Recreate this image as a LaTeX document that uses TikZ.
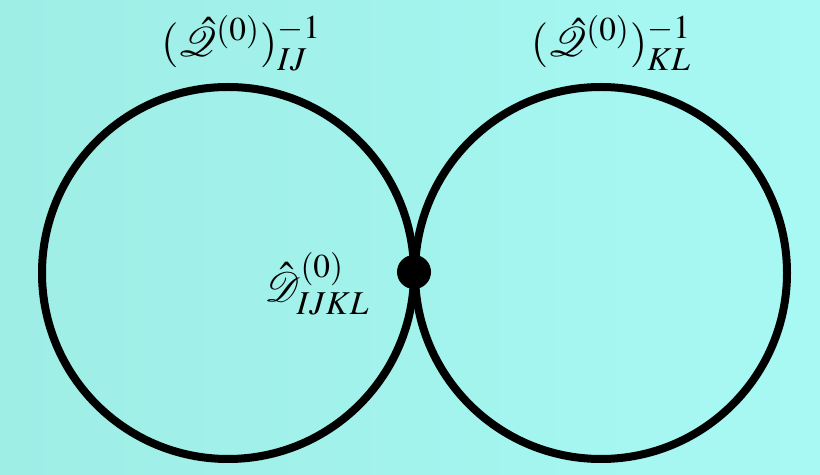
\documentclass[tikz,border=0pt]{standalone}
\usepackage{mathptmx}
\usepackage{mathrsfs}
\definecolor{bgL}{RGB}{158,238,230}
\definecolor{bgR}{RGB}{168,248,244}
\tikzset{
  loopline/.style={draw=black, line width=4pt, circle, inner sep=0pt, minimum size=372*0.5pt},
  vertexdot/.style={fill=black, circle, inner sep=0pt, minimum size=17pt},
  lab/.style={inner sep=0pt, font=\fontsize{22.5}{26}\selectfont}
}
\begin{document}
\begin{tikzpicture}[x=0.5pt,y=-0.5pt]
\shade[left color=bgL, right color=bgR] (0,0) rectangle (820,475);
\useasboundingbox (0,0) rectangle (820,475);
\node[loopline] (L) at (228,273) {};
\node[loopline] (R) at (601,273) {};
\node[vertexdot] (v) at (414,272) {};
\node[lab] (qL) at (241,43) {$(\hat{\mathscr{Q}}^{(0)})^{-1}_{IJ}$};
\node[lab] (qR) at (611,43) {$(\hat{\mathscr{Q}}^{(0)})^{-1}_{KL}$};
\node[lab] (d) at (317,284) {$\hat{\mathscr{D}}^{(0)}_{IJKL}$};
\end{tikzpicture}
\end{document}
